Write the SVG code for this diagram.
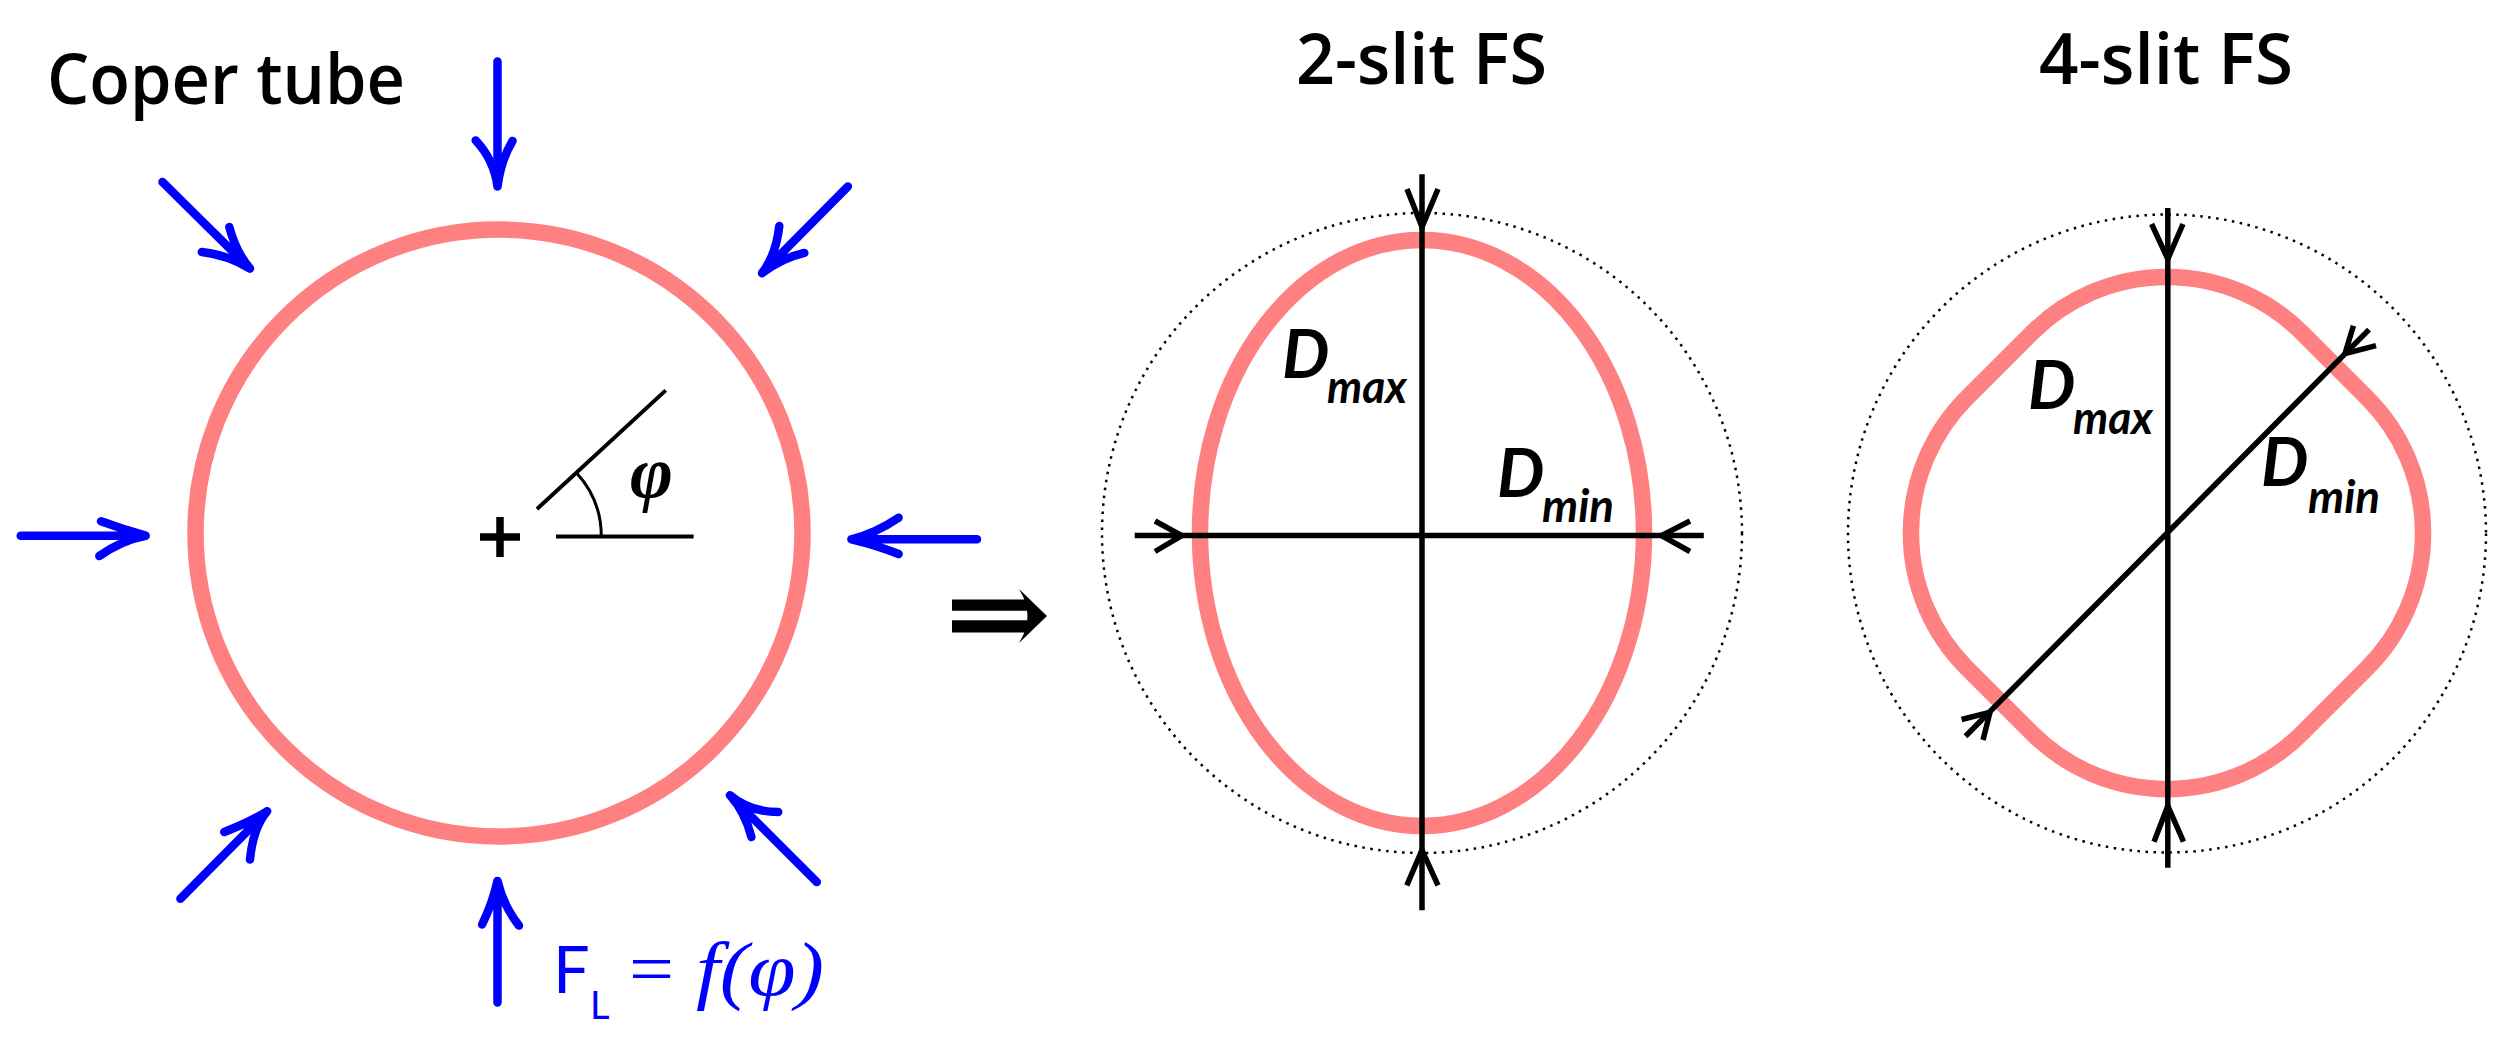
<svg xmlns="http://www.w3.org/2000/svg" width="2518" height="1057" viewBox="0 0 2518 1057">
<style>
.pink{fill:none;stroke:#FF8080;stroke-width:16.5}
.force{fill:none;stroke:#0000FF;stroke-width:8.5;stroke-linecap:round;stroke-linejoin:round}
.dim{fill:none;stroke:#000;stroke-width:5.5}
.thin{fill:none;stroke:#000;stroke-width:4}
.dot{fill:none;stroke:#000;stroke-width:2.5;stroke-dasharray:2.5 5.5}
.title{font-family:"Open Sans",Lato,sans-serif;font-weight:600;font-size:70px;fill:#000}
.lab{font-family:Lato,"Open Sans",sans-serif;font-style:italic;font-weight:700;fill:#000}
</style>
<rect width="2518" height="1057" fill="#fff"/>

<g id="copper-tube">
  <circle class="pink" cx="499" cy="533" r="303.5"/>
  <path d="M480 537H520M500 517V557" stroke="#000" stroke-width="7.5" fill="none"/>
  <path class="thin" d="M556 536.4H693.6M537 509L665.7 390.4"/>
  <path d="M601.3 536.4A94 94 0 0 0 576.4 472.7" fill="none" stroke="#000" stroke-width="3"/>
  <text x="630" y="497" font-family="'Liberation Serif',serif" font-style="italic" font-weight="700" font-size="74" fill="#000" textLength="43" lengthAdjust="spacingAndGlyphs">φ</text>
  <text class="title" x="47" y="103.6" textLength="358" lengthAdjust="spacingAndGlyphs">Coper tube</text>
</g>

<g id="forces">
  <path class="force" d="M497.5 61.4V186.4M475.7 140.4Q494 160 497.5 186.4Q501 160 512.5 141"/>
  <path class="force" d="M162.5 182L250 268.6M229.3 227Q236 252 250 268.6Q228 255 201.8 252"/>
  <path class="force" d="M847.9 186.4L762 273.2M779.3 226Q776 255 762 273.2Q782 258 804.3 252.9"/>
  <path class="force" d="M20.7 535.7H145.7M101 521.3Q122 529 145.7 535.7Q122 540 99.3 556"/>
  <path class="force" d="M977 539.3H851.4M898.6 517.7Q876 533 851.4 539.3Q876 545 898.6 554"/>
  <path class="force" d="M180.4 898.8L267.1 811.3M224.3 832Q250 822 267.1 811.3Q253 828 250 859.5"/>
  <path class="force" d="M497.5 1002.4V880.9M482.1 924.5Q493 902 497.5 880.9Q503 905 519 925.6"/>
  <path class="force" d="M816.8 882L730 795.2M778.2 812Q750 812 730 795.2Q745 812 751.4 837"/>
  <text fill="#0000FF"><tspan x="553" y="993.4" font-family="Lato,'Open Sans',sans-serif" font-size="65">F</tspan><tspan x="590" y="1019" font-family="Lato,'Open Sans',sans-serif" font-size="38">L</tspan><tspan x="629" y="993" font-family="'Liberation Serif',serif" font-size="72" textLength="45" lengthAdjust="spacingAndGlyphs">=</tspan><tspan x="696" y="995" font-family="'Liberation Serif',serif" font-style="italic" font-size="76" textLength="128" lengthAdjust="spacingAndGlyphs">f(φ)</tspan></text>
</g>

<g id="implies">
  <path d="M952 599.5H1027V610.8H952ZM952 620.2H1027V632.5H952ZM1019 589L1047 616L1019 643Q1036 616 1019 589Z" fill="#000"/>
</g>

<g id="slit2">
  <text class="title" x="1296" y="84" textLength="251" lengthAdjust="spacingAndGlyphs">2-slit FS</text>
  <circle class="dot" cx="1422" cy="533" r="320"/>
  <ellipse class="pink" cx="1422" cy="533" rx="222" ry="293"/>
  <path class="dim" d="M1422 174.3V910.3M1134.7 535.6H1703.8"/>
  <path class="dim" d="M1407 189L1422 227L1438 189M1406.8 885.4L1422 850L1438 885.4M1155 521L1181.8 535.6L1155 551.5M1690 521L1661.5 535.6L1690 551.5"/>
  <text class="lab"><tspan x="1282" y="378" font-size="67">D</tspan><tspan x="1327" y="403" font-size="45" textLength="80" lengthAdjust="spacingAndGlyphs">max</tspan></text>
  <text class="lab"><tspan x="1497" y="497" font-size="67">D</tspan><tspan x="1542" y="522" font-size="45" textLength="72" lengthAdjust="spacingAndGlyphs">min</tspan></text>
</g>

<g id="slit4">
  <text class="title" x="2039" y="84" textLength="254" lengthAdjust="spacingAndGlyphs">4-slit FS</text>
  <circle class="dot" cx="2167" cy="533.5" r="319"/>
  <path class="pink" d="M2031.94 332.89A191 191 0 0 1 2302.06 332.89L2367.11 397.94A191 191 0 0 1 2367.11 668.06L2302.06 733.11A191 191 0 0 1 2031.94 733.11L1966.89 668.06A191 191 0 0 1 1966.89 397.94Z"/>
  <path class="dim" d="M2167.8 208V867.7M1965.5 736.2L2369 329.6"/>
  <path class="dim" d="M2151.6 224L2167.8 259L2183 224M2154 841.7L2167.8 806L2183.5 841.7M2353.4 325.7L2345 353.6L2376 345.7M1961.6 719.5L1990 712.4L1983 740"/>
  <text class="lab"><tspan x="2028" y="409" font-size="67">D</tspan><tspan x="2073" y="434" font-size="45" textLength="80" lengthAdjust="spacingAndGlyphs">max</tspan></text>
  <text class="lab"><tspan x="2261" y="486" font-size="67">D</tspan><tspan x="2308" y="512.5" font-size="45" textLength="72" lengthAdjust="spacingAndGlyphs">min</tspan></text>
</g>
</svg>
